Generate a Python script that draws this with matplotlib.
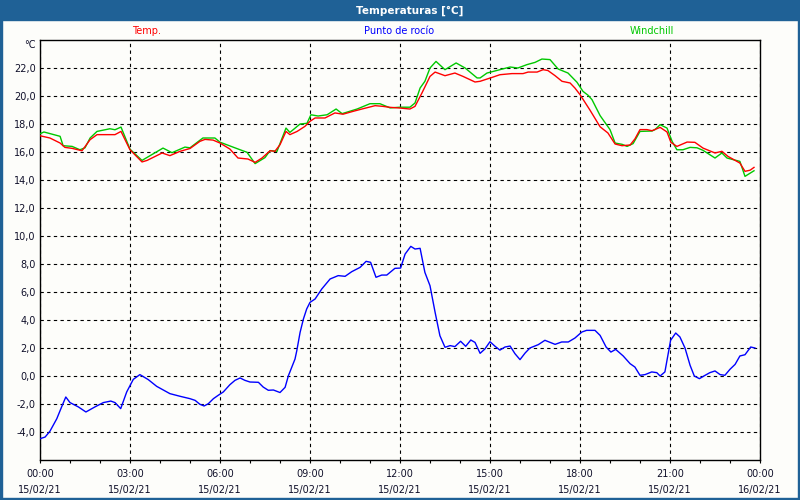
#!/usr/bin/env python3
"""Temperaturas [°C] - daily chart 15/02/21, Temp / Punto de rocío / Windchill. 800x500."""
import matplotlib; matplotlib.use("Agg")
import matplotlib.pyplot as plt
from matplotlib.patches import Rectangle

BAR = "#1f6196"; BG = "#fdfdfa"; INK = "#10102a"
RED = "#ff0000"; BLUE = "#0000ff"; GREEN = "#00c800"
plt.rcParams.update({"font.family": "DejaVu Sans", "font.size": 7})

# ---------- data (hours since 00:00 15/02/21, °C) ----------
hours_temp = [0.00, 0.33, 0.67, 0.83, 1.07, 1.40, 1.67, 1.90, 2.50, 2.70, 3.00, 3.40, 3.57, 4.07, 4.33,
              4.67, 5.00, 5.33, 5.50, 5.77, 6.00, 6.33, 6.60, 6.93, 7.17, 7.40, 7.67, 7.83, 8.00, 8.20,
              8.33, 8.57, 8.83, 9.00, 9.17, 9.50, 9.83, 10.10, 10.43, 10.73, 11.17, 11.43, 11.67, 12.00,
              12.33, 12.50, 12.73, 13.00, 13.17, 13.50, 13.83, 14.10, 14.50, 14.67, 15.07, 15.33, 15.73,
              16.10, 16.27, 16.57, 16.77, 16.93, 17.17, 17.40, 17.67, 17.83, 18.00, 18.33, 18.67, 18.93,
              19.17, 19.40, 19.67, 19.83, 20.00, 20.23, 20.40, 20.67, 20.90, 21.03, 21.23, 21.57, 21.83,
              22.10, 22.50, 22.73, 22.93, 23.33, 23.50, 23.67, 23.80]
temp = [17.16, 17.00, 16.64, 16.33, 16.26, 16.09, 16.88, 17.24, 17.24, 17.47, 16.16, 15.29, 15.40, 15.93, 15.74,
        16.05, 16.25, 16.76, 16.90, 16.85, 16.64, 16.21, 15.57, 15.50, 15.26, 15.57, 16.09, 16.05, 16.52, 17.47,
        17.24, 17.47, 17.83, 18.19, 18.43, 18.43, 18.79, 18.70, 18.90, 19.07, 19.31, 19.26, 19.19, 19.14,
        19.07, 19.26, 20.21, 21.40, 21.71, 21.45, 21.64, 21.40, 21.00, 21.05, 21.33, 21.52, 21.60,
        21.60, 21.71, 21.71, 21.88, 21.82, 21.45, 21.05, 20.93, 20.57, 20.10, 19.00, 17.80, 17.36,
        16.57, 16.45, 16.50, 16.93, 17.60, 17.60, 17.52, 17.76, 17.43, 16.69, 16.40, 16.71, 16.69,
        16.28, 15.93, 16.05, 15.69, 15.21, 14.62, 14.70, 14.90]

hours_wind = [0.00, 0.13, 0.67, 0.77, 1.07, 1.33, 1.50, 1.67, 1.90, 2.33, 2.50, 2.70, 3.00, 3.40, 4.10,
              4.40, 4.83, 5.00, 5.43, 5.83, 6.00, 6.67, 6.90, 7.17, 7.50, 7.67, 7.90, 8.20, 8.33, 8.67,
              8.90, 9.03, 9.27, 9.57, 9.87, 10.07, 10.57, 11.00, 11.33, 11.67, 12.00, 12.33, 12.50, 12.67,
              12.83, 13.00, 13.20, 13.50, 13.87, 14.17, 14.57, 14.67, 14.90, 15.33, 15.67, 15.93, 16.23,
              16.50, 16.73, 17.00, 17.27, 17.60, 17.90, 18.10, 18.27, 18.40, 18.67, 19.00, 19.17, 19.40,
              19.57, 19.77, 20.00, 20.40, 20.50, 20.67, 20.90, 21.07, 21.23, 21.43, 21.67, 21.90, 22.10,
              22.50, 22.73, 22.90, 23.33, 23.50, 23.80]
windchill = [17.30, 17.43, 17.12, 16.45, 16.40, 16.16, 16.30, 17.00, 17.47, 17.66, 17.59, 17.78, 16.20, 15.40, 16.28,
             15.95, 16.35, 16.30, 17.00, 17.00, 16.70, 16.16, 15.98, 15.17, 15.60, 16.10, 16.05, 17.71, 17.40, 18.00,
             18.05, 18.66, 18.57, 18.66, 19.07, 18.74, 19.07, 19.45, 19.45, 19.15, 19.20, 19.20, 19.50, 20.57,
             21.05, 22.00, 22.47, 21.88, 22.36, 22.00, 21.29, 21.29, 21.64, 21.88, 22.07, 22.00, 22.24,
             22.40, 22.64, 22.60, 21.93, 21.64, 20.98, 20.33, 20.05, 19.74, 18.60, 17.60, 16.64, 16.55,
             16.40, 16.60, 17.47, 17.50, 17.60, 17.95, 17.71, 16.76, 16.16, 16.16, 16.33, 16.30, 16.12,
             15.57, 15.93, 15.57, 15.33, 14.26, 14.66]

hours_dew = [0.00, 0.17, 0.33, 0.56, 0.72, 0.86, 1.00, 1.28, 1.53, 1.83, 2.11, 2.36, 2.50, 2.69, 2.89,
             3.11, 3.33, 3.61, 3.89, 4.33, 4.67, 5.00, 5.17, 5.33, 5.47, 5.61, 5.78, 5.94, 6.11, 6.33,
             6.50, 6.67, 6.83, 7.00, 7.28, 7.44, 7.61, 7.78, 8.00, 8.17, 8.28, 8.50, 8.56, 8.67, 8.78,
             8.89, 9.00, 9.17, 9.39, 9.67, 9.94, 10.17, 10.39, 10.67, 10.87, 11.02, 11.20, 11.39, 11.56,
             11.83, 12.02, 12.17, 12.36, 12.50, 12.67, 12.83, 13.00, 13.17, 13.33, 13.50, 13.67, 13.83,
             14.02, 14.19, 14.36, 14.50, 14.67, 14.83, 15.00, 15.17, 15.33, 15.50, 15.67, 15.83, 16.00,
             16.17, 16.33, 16.61, 16.83, 17.17, 17.39, 17.61, 17.83, 18.06, 18.22, 18.50, 18.67, 18.87,
             19.03, 19.19, 19.44, 19.67, 19.83, 20.00, 20.17, 20.39, 20.56, 20.67, 20.83, 21.02, 21.19,
             21.33, 21.50, 21.67, 21.81, 21.98, 22.17, 22.33, 22.50, 22.67, 22.83, 23.00, 23.17, 23.33,
             23.50, 23.69, 23.83]
dew = [-4.48, -4.36, -3.95, -3.05, -2.21, -1.50, -1.90, -2.21, -2.57, -2.21, -1.90, -1.79, -1.90, -2.33, -1.14,
       -0.24, 0.10, -0.26, -0.74, -1.26, -1.45, -1.62, -1.74, -2.02, -2.14, -1.98, -1.62, -1.38, -1.14, -0.62,
       -0.31, -0.14, -0.31, -0.43, -0.45, -0.79, -1.02, -1.00, -1.18, -0.81, 0.02, 1.21, 1.81, 3.12, 4.07,
       4.79, 5.26, 5.50, 6.21, 6.93, 7.17, 7.12, 7.45, 7.76, 8.19, 8.12, 7.05, 7.21, 7.21,
       7.69, 7.71, 8.71, 9.26, 9.07, 9.12, 7.40, 6.45, 4.55, 2.88, 2.05, 2.17, 2.10,
       2.48, 2.12, 2.57, 2.40, 1.62, 1.93, 2.45, 2.12, 1.85, 2.07, 2.14, 1.60, 1.17,
       1.64, 2.00, 2.24, 2.55, 2.26, 2.43, 2.43, 2.71, 3.14, 3.26, 3.26, 2.90, 2.07,
       1.71, 1.90, 1.43, 0.88, 0.64, 0.05, 0.10, 0.29, 0.24, 0.00, 0.29, 2.55, 3.07,
       2.79, 2.00, 0.76, 0.00, -0.19, 0.05, 0.24, 0.36, 0.10, 0.05, 0.48, 0.83, 1.43,
       1.52, 2.07, 2.00]

x_major = [0, 3, 6, 9, 12, 15, 18, 21, 24]
x_labels = ["00:00\n15/02/21", "03:00\n15/02/21", "06:00\n15/02/21", "09:00\n15/02/21", "12:00\n15/02/21",
            "15:00\n15/02/21", "18:00\n15/02/21", "21:00\n15/02/21", "00:00\n16/02/21"]
y_ticks = list(range(-4, 23, 2))

fig = plt.figure(figsize=(8, 5), dpi=100)
fig.patch.set_facecolor(BG)

# window frame: title bar + thin border
fig.add_artist(Rectangle((0, 0.96), 1, 0.04, transform=fig.transFigure, color=BAR, zorder=0))
fig.add_artist(Rectangle((0, 0), 0.0025, 1, transform=fig.transFigure, color=BAR, zorder=0))
fig.add_artist(Rectangle((0.9975, 0), 0.0025, 1, transform=fig.transFigure, color=BAR, zorder=0))
fig.add_artist(Rectangle((0, 0), 1, 0.005, transform=fig.transFigure, color=BAR, zorder=0))
fig.text(0.512, 0.979, "Temperaturas [°C]", ha="center", va="center", color="white", fontweight="bold", fontsize=7.5)

# series names on top
fig.text(147/800, 1-31/500, "Temp.", ha="center", va="center", color=RED)
fig.text(399/800, 1-31/500, "Punto de rocío", ha="center", va="center", color=BLUE)
fig.text(652/800, 1-31/500, "Windchill", ha="center", va="center", color=GREEN)

ax = fig.add_axes([0.05, 0.08, 0.90, 0.84])
ax.set_facecolor(BG)
ax.plot(hours_wind, windchill, color=GREEN, lw=1.0, zorder=3)
ax.plot(hours_temp, temp, color=RED, lw=1.0, zorder=4)
ax.plot(hours_dew, dew, color=BLUE, lw=1.0, zorder=3)

ax.set_xlim(0, 24); ax.set_ylim(-6, 24)
ax.set_xticks(x_major); ax.set_xticklabels(x_labels, color=INK, linespacing=1.7)
ax.set_xticks(range(0, 25), minor=True)
ax.set_yticks(y_ticks); ax.set_yticklabels([f"{v:.1f}".replace(".", ",") for v in y_ticks], color=INK)
ax.tick_params(axis="y", length=0, pad=3)
ax.tick_params(axis="x", which="both", direction="out", length=2.5, width=0.8, pad=4, color="black")
ax.grid(True, color="black", lw=0.8, linestyle=(0, (3, 3)))
for s in ax.spines.values():
    s.set_linewidth(1.0); s.set_color("black")
ax.text(-0.006, 1.0, "°C", transform=ax.transAxes, ha="right", va="top", color=INK)

fig.savefig("out.png", dpi=100, facecolor=BG)
